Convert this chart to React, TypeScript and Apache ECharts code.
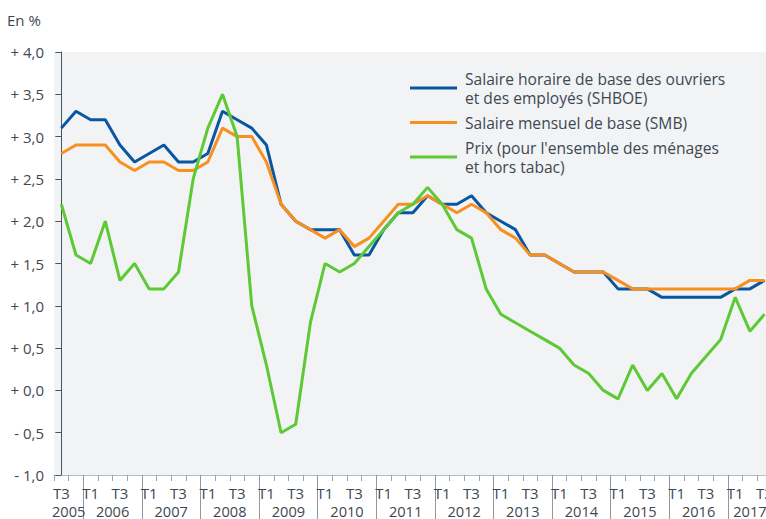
import React, { useEffect, useRef } from "react";
import * as echarts from "echarts";

// ---- data ----
const quarterNames = ["T1", "T2", "T3", "T4"];
const years = [2005, 2006, 2007, 2008, 2009, 2010, 2011, 2012, 2013, 2014, 2015, 2016, 2017];
const firstQuarterIndex = 2; // 2005 starts at T3
const lastQuarterIndex = 2; // 2017 ends at T3

const categories: string[] = [];
years.forEach((y, yi) => {
  quarterNames.forEach((q, qi) => {
    if (yi === 0 && qi < firstQuarterIndex) return;
    if (yi === years.length - 1 && qi > lastQuarterIndex) return;
    categories.push(y + " " + q);
  });
});

const shboe = [
  3.1, 3.3,
  3.2, 3.2, 2.9, 2.7,
  2.8, 2.9, 2.7, 2.7,
  2.8, 3.3, 3.2, 3.1,
  2.9, 2.2, 2.0, 1.9,
  1.9, 1.9, 1.6, 1.6,
  1.9, 2.1, 2.1, 2.3,
  2.2, 2.2, 2.3, 2.1,
  2.0, 1.9, 1.6, 1.6,
  1.5, 1.4, 1.4, 1.4,
  1.2, 1.2, 1.2, 1.1,
  1.1, 1.1, 1.1, 1.1,
  1.2, 1.2, 1.3,
];

const smb = [
  2.8, 2.9,
  2.9, 2.9, 2.7, 2.6,
  2.7, 2.7, 2.6, 2.6,
  2.7, 3.1, 3.0, 3.0,
  2.7, 2.2, 2.0, 1.9,
  1.8, 1.9, 1.7, 1.8,
  2.0, 2.2, 2.2, 2.3,
  2.2, 2.1, 2.2, 2.1,
  1.9, 1.8, 1.6, 1.6,
  1.5, 1.4, 1.4, 1.4,
  1.3, 1.2, 1.2, 1.2,
  1.2, 1.2, 1.2, 1.2,
  1.2, 1.3, 1.3,
];

const prix = [
  2.2, 1.6,
  1.5, 2.0, 1.3, 1.5,
  1.2, 1.2, 1.4, 2.5,
  3.1, 3.5, 3.0, 1.0,
  0.3, -0.5, -0.4, 0.8,
  1.5, 1.4, 1.5, 1.7,
  1.9, 2.1, 2.2, 2.4,
  2.2, 1.9, 1.8, 1.2,
  0.9, 0.8, 0.7, 0.6,
  0.5, 0.3, 0.2, 0.0,
  -0.1, 0.3, 0.0, 0.2,
  -0.1, 0.2, 0.4, 0.6,
  1.1, 0.7, 0.9,
];

const seriesNames = [
  "Salaire horaire de base des ouvriers\net des employés (SHBOE)",
  "Salaire mensuel de base (SMB)",
  "Prix (pour l'ensemble des ménages\net hors tabac)",
];
const seriesColors = ["#0a56a2", "#f7901e", "#5cc935"];

// year boundaries (before each T1) and year label centers, in category-index units
const yearBoundaries: number[] = [];
categories.forEach((c, i) => {
  if (i > 0 && c.endsWith("T1")) yearBoundaries.push(i - 0.5);
});
const yearCenters: number[] = years.map((y) => {
  const idx = categories
    .map((c, i) => (c.startsWith(String(y)) ? i : -1))
    .filter((i) => i >= 0);
  return (idx[0] + idx[idx.length - 1]) / 2;
});

const textColor = "#3d4852";
const fontFamily = "'Open Sans', 'Noto Sans', sans-serif";

export default function App() {
  const ref = useRef<HTMLDivElement>(null);

  useEffect(() => {
    if (!ref.current) return;
    const chart = echarts.init(ref.current, undefined, { renderer: "svg" });
    const n = categories.length;
    const bandW = 14.65;
    chart.setOption({
      animation: false,
      textStyle: { fontFamily },
      title: {
        text: "En %",
        left: 7,
        top: 12,
        padding: 0,
        textStyle: { fontSize: 15, fontWeight: "normal", color: textColor, fontFamily },
      },
      legend: {
        orient: "vertical",
        left: 410,
        top: 69,
        padding: 0,
        icon: "rect",
        itemWidth: 47,
        itemHeight: 3,
        itemGap: 6,
        data: seriesNames,
        textStyle: {
          fontSize: 15.6,
          lineHeight: 19,
          color: textColor,
          fontFamily,
          padding: [0, 0, 0, 3],
        },
      },
      grid: {
        left: 54,
        top: 52,
        width: n * bandW,
        height: 423,
        show: true,
        backgroundColor: "#f2f3f5",
        borderWidth: 0,
        containLabel: false,
      },
      xAxis: [
        {
          type: "category",
          data: categories,
          boundaryGap: true,
          position: "bottom",
          axisLine: { show: true, onZero: false, lineStyle: { color: "#b4bcc4", width: 1 } },
          axisTick: {
            show: true,
            interval: 0,
            length: 6,
            lineStyle: { color: "#9aa4ad", width: 1 },
          },
          axisLabel: {
            interval: (_i: number, v: string) => v.endsWith("T1") || v.endsWith("T3"),
            formatter: (v: string) => v.split(" ")[1],
            margin: 10,
            fontSize: 15,
            color: textColor,
            fontFamily,
          },
          splitLine: { show: false },
        },
        {
          type: "value",
          min: -0.5,
          max: n - 0.5,
          position: "bottom",
          axisLine: { show: false, onZero: false },
          axisTick: {
            show: true,
            customValues: yearBoundaries,
            length: 44,
            lineStyle: { color: "#8e99a3", width: 1 },
          },
          axisLabel: {
            customValues: yearCenters,
            formatter: (v: number) => {
              let best = 0;
              yearCenters.forEach((c, i) => {
                if (Math.abs(c - v) < Math.abs(yearCenters[best] - v)) best = i;
              });
              return String(years[best]);
            },
            margin: 28,
            fontSize: 14.6,
            lineHeight: 16,
            color: textColor,
            fontFamily,
          },
          splitLine: { show: false },
        },
      ],
      yAxis: {
        type: "value",
        min: -1,
        max: 4,
        interval: 0.5,
        axisLine: { show: true, lineStyle: { color: "#4b5662", width: 1 } },
        axisTick: { show: true, length: 6, lineStyle: { color: "#4b5662", width: 1 } },
        axisLabel: {
          margin: 10,
          fontSize: 15,
          color: textColor,
          fontFamily,
          formatter: (v: number) =>
            (v >= 0 ? "+ " : "- ") + Math.abs(v).toFixed(1).replace(".", ","),
        },
        splitLine: { show: false },
      },
      series: [shboe, smb, prix].map((d, i) => ({
        name: seriesNames[i],
        type: "line",
        xAxisIndex: 0,
        data: d,
        symbol: "none",
        lineStyle: { width: 3, color: seriesColors[i] },
        itemStyle: { color: seriesColors[i] },
        z: 2 + i,
      })),
    });
    return () => chart.dispose();
  }, []);

  return (
    <div
      style={{
        position: "fixed",
        left: 0,
        top: 0,
        width: 766,
        height: 519,
        overflow: "hidden",
        background: "#ffffff",
      }}
    >
      <div ref={ref} style={{ width: 800, height: 519 }} />
    </div>
  );
}
